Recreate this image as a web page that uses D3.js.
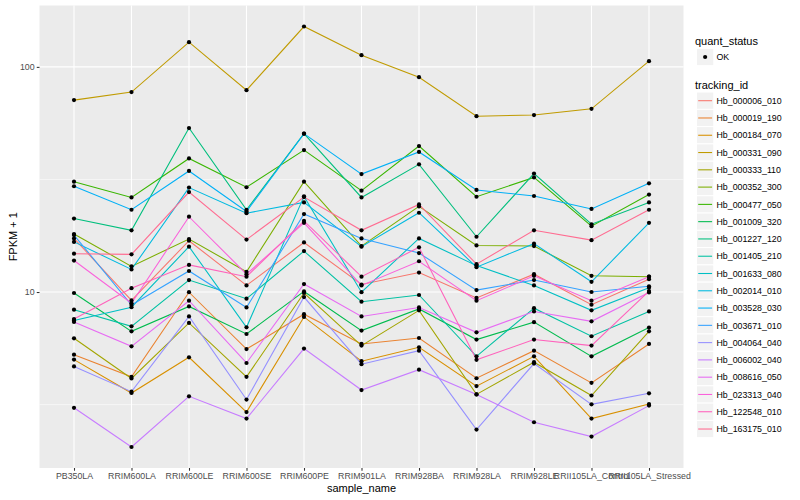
<!DOCTYPE html>
<html><head><meta charset="utf-8">
<script src="https://cdn.jsdelivr.net/npm/d3@7"></script>
<style>body{margin:0;background:#fff;} svg{display:block;} text{font-family:"Liberation Sans",Arial,Helvetica,sans-serif;}</style>
</head><body>
<svg id="chart" width="800" height="500"></svg>
<script>
const samples = ["PB350LA","RRIM600LA","RRIM600LE","RRIM600SE","RRIM600PE","RRIM901LA","RRIM928BA","RRIM928LA","RRIM928LE","RRII105LA_Control","RRII105LA_Stressed"];
const trackingIds = ["Hb_000006_010","Hb_000019_190","Hb_000184_070","Hb_000331_090","Hb_000333_110","Hb_000352_300","Hb_000477_050","Hb_001009_320","Hb_001227_120","Hb_001405_210","Hb_001633_080","Hb_002014_010","Hb_003528_030","Hb_003671_010","Hb_004064_040","Hb_006002_040","Hb_008616_050","Hb_023313_040","Hb_122548_010","Hb_163175_010"];
const colors = ["#F8766D","#EA8331","#D89000","#C09B00","#A3A500","#7CAE00","#39B600","#00BB4E","#00BF7D","#00C1A3","#00BFC4","#00BAE0","#00B0F6","#35A2FF","#9590FF","#C77CFF","#E76BF3","#FA62DB","#FF62BC","#FF6C91"];
const yMajorTicks = [10, 100];
const yTickLabels = ["10", "100"];
const quantStatus = ["OK"];

// FPKM + 1 per sample (order of samples)
const hb000006_010 = [17.3, 9.18, 16.9, 10.7, 16.6, 10.8, 12.2, 9.41, 12.0, 8.78, 11.4];
const hb000019_190 = [5.27, 4.20, 9.98, 5.58, 7.97, 5.88, 6.25, 4.14, 5.49, 3.95, 5.88];
const hb000184_070 = [5.01, 3.56, 5.13, 2.93, 7.75, 4.93, 5.68, 3.82, 5.18, 2.74, 3.18];
const hb000331_090 = [71.2, 77.3, 128.7, 78.8, 151.1, 112.7, 90.0, 60.4, 61.1, 65.1, 106.0];
const hb000333_110 = [6.23, 4.13, 7.29, 4.20, 9.90, 5.78, 8.29, 3.51, 4.88, 3.47, 6.69];
const hb000352_300 = [18.1, 13.0, 17.2, 12.3, 30.9, 16.0, 24.0, 16.1, 16.0, 11.8, 11.7];
const hb000477_050 = [30.9, 26.3, 39.2, 29.2, 42.7, 28.2, 44.5, 26.5, 32.3, 19.6, 27.1];
const hb001009_320 = [9.90, 6.69, 8.63, 6.51, 10.06, 6.74, 8.41, 6.15, 7.35, 5.18, 6.95];
const hb001227_120 = [21.2, 18.8, 53.5, 23.2, 50.5, 26.3, 36.9, 17.6, 33.6, 20.0, 25.0];
const hb001405_210 = [8.35, 7.04, 11.3, 9.34, 15.2, 9.06, 9.70, 5.18, 8.48, 6.36, 8.20];
const hb001633_080 = [7.48, 8.56, 15.9, 6.97, 26.6, 9.98, 17.3, 13.1, 10.7, 8.29, 10.45];
const hb002014_010 = [16.7, 12.6, 29.1, 22.4, 25.0, 15.9, 22.5, 12.9, 16.4, 11.1, 20.3];
const hb003528_030 = [29.5, 23.2, 34.5, 22.8, 50.5, 33.4, 41.9, 28.4, 26.7, 23.4, 30.4];
const hb003671_010 = [17.9, 8.76, 12.4, 8.54, 22.2, 17.3, 14.9, 10.2, 11.3, 10.0, 10.6];
const hb004064_040 = [4.67, 3.61, 7.79, 3.33, 9.50, 4.78, 5.49, 2.45, 4.81, 3.17, 3.55];
const hb006002_040 = [3.06, 2.05, 3.44, 2.74, 5.61, 3.67, 4.52, 3.51, 2.64, 2.28, 3.13];
const hb008616_050 = [7.36, 5.74, 9.15, 4.84, 10.85, 7.79, 8.54, 6.62, 8.20, 7.41, 9.96];
const hb023313_040 = [13.8, 8.92, 21.6, 12.0, 20.3, 10.7, 13.7, 9.15, 11.8, 9.15, 11.7];
const hb122548_010 = [7.59, 10.4, 13.2, 11.7, 20.7, 11.7, 15.8, 5.00, 6.15, 5.78, 10.1];
const hb163175_010 = [14.8, 14.7, 27.8, 17.1, 26.4, 18.8, 24.5, 13.3, 18.8, 17.0, 23.2];

const seriesValues = [hb000006_010, hb000019_190, hb000184_070, hb000331_090, hb000333_110, hb000352_300, hb000477_050, hb001009_320, hb001227_120, hb001405_210, hb001633_080, hb002014_010, hb003528_030, hb003671_010, hb004064_040, hb006002_040, hb008616_050, hb023313_040, hb122548_010, hb163175_010];

const series = trackingIds.map((id, i) => ({
  id, color: colors[i],
  values: samples.map((s, j) => ({sample: s, v: seriesValues[i][j]}))
}));

const svg = d3.select("#chart");
const panel = {left: 39.5, right: 683.5, top: 5.5, bottom: 468};

const x = d3.scalePoint().domain(samples).range([panel.left, panel.right]).padding(0.6);

const allV = seriesValues.flat();
const lmin = Math.log10(d3.min(allV)), lmax = Math.log10(d3.max(allV));
const ex = (lmax - lmin) * 0.05;
const y = d3.scaleLog().domain([Math.pow(10, lmin - ex), Math.pow(10, lmax + ex)]).range([panel.bottom, panel.top]);

// panel background
svg.append("rect").attr("x", panel.left).attr("y", panel.top)
  .attr("width", panel.right - panel.left).attr("height", panel.bottom - panel.top)
  .attr("fill", "#EBEBEB");

const grid = svg.append("g");
// minor y grid
const minorTicks = [Math.pow(10, 0.5), Math.pow(10, 1.5), Math.pow(10, 2.5)].filter(v => v >= y.domain()[0] && v <= y.domain()[1]);
grid.selectAll(".ymin").data(minorTicks).join("line")
  .attr("x1", panel.left).attr("x2", panel.right)
  .attr("y1", d => y(d)).attr("y2", d => y(d))
  .attr("stroke", "#fff").attr("stroke-width", 0.55);
grid.selectAll(".ymaj").data(yMajorTicks).join("line")
  .attr("x1", panel.left).attr("x2", panel.right)
  .attr("y1", d => y(d)).attr("y2", d => y(d))
  .attr("stroke", "#fff").attr("stroke-width", 1.1);
grid.selectAll(".xmaj").data(samples).join("line")
  .attr("x1", d => x(d)).attr("x2", d => x(d))
  .attr("y1", panel.top).attr("y2", panel.bottom)
  .attr("stroke", "#fff").attr("stroke-width", 1.1);

// lines
const line = d3.line().x(d => x(d.sample)).y(d => y(d.v));
svg.append("g").selectAll("path").data(series).join("path")
  .attr("d", d => line(d.values))
  .attr("fill", "none").attr("stroke", d => d.color).attr("stroke-width", 1.07);

// points
const pts = series.flatMap(s => s.values);
svg.append("g").selectAll("circle").data(pts).join("circle")
  .attr("cx", d => x(d.sample)).attr("cy", d => y(d.v)).attr("r", 2.1)
  .attr("fill", "#000");

// axes
const xAxis = d3.axisBottom(x).tickSize(2.75).tickPadding(2.5);
const gx = svg.append("g").attr("transform", `translate(0,${panel.bottom})`).call(xAxis);
gx.select(".domain").remove();
gx.selectAll(".tick line").attr("stroke", "#333333").attr("stroke-width", 1.07);
gx.selectAll(".tick text").attr("fill", "#4D4D4D").style("font-size", "8.8px");

const yAxis = d3.axisLeft(y).tickValues(yMajorTicks).tickFormat((d, i) => yTickLabels[i]).tickSize(2.75).tickPadding(2.2);
const gy = svg.append("g").attr("transform", `translate(${panel.left},0)`).call(yAxis);
gy.select(".domain").remove();
gy.selectAll(".tick line").attr("stroke", "#333333").attr("stroke-width", 1.07);
gy.selectAll(".tick text").attr("fill", "#4D4D4D").style("font-size", "8.8px");

svg.append("text").attr("x", (panel.left + panel.right) / 2).attr("y", 491.5)
  .attr("text-anchor", "middle").style("font-size", "11px").attr("fill", "#000").text("sample_name");
svg.append("text").attr("transform", `translate(16.5,${(panel.top + panel.bottom) / 2}) rotate(-90)`)
  .attr("text-anchor", "middle").style("font-size", "11px").attr("fill", "#000").text("FPKM + 1");

// legend
const lg = svg.append("g");
const keyX = 696.5, keyS = 17.28;
lg.append("text").attr("x", 695).attr("y", 44.6).style("font-size", "11px").text("quant_status");
quantStatus.forEach((q, i) => {
  const cy = 57 + i * keyS;
  lg.append("rect").attr("x", keyX).attr("y", cy - keyS / 2).attr("width", keyS).attr("height", keyS)
    .attr("fill", "#F2F2F2").attr("stroke", "#fff").attr("stroke-width", 1);
  lg.append("circle").attr("cx", keyX + keyS / 2).attr("cy", cy).attr("r", 2.1).attr("fill", "#000");
  lg.append("text").attr("x", 716.5).attr("y", cy + 3.2).style("font-size", "8.8px").attr("fill", "#000").text(q);
});
lg.append("text").attr("x", 695).attr("y", 89).style("font-size", "11px").text("tracking_id");
series.forEach((s, i) => {
  const cy = 100.7 + i * keyS;
  lg.append("rect").attr("x", keyX).attr("y", cy - keyS / 2).attr("width", keyS).attr("height", keyS)
    .attr("fill", "#F2F2F2").attr("stroke", "#fff").attr("stroke-width", 1);
  lg.append("line").attr("x1", keyX + 1.7).attr("x2", keyX + keyS - 1.7).attr("y1", cy).attr("y2", cy)
    .attr("stroke", s.color).attr("stroke-width", 1.07);
  lg.append("text").attr("x", 716.5).attr("y", cy + 3.2).style("font-size", "8.8px").attr("fill", "#000").text(s.id);
});
</script>
</body></html>
